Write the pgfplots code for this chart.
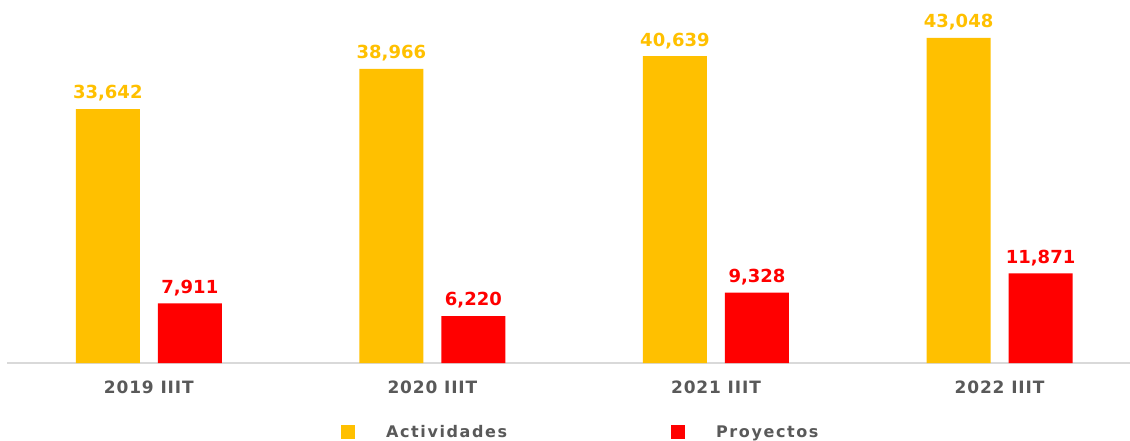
\documentclass[border=0pt]{standalone}
\usepackage{fontspec}
\setmainfont{DejaVu Sans}
\usepackage{pgfplots}
\pgfplotsset{compat=1.18}
\definecolor{amarillo}{HTML}{FFC000}
\definecolor{rojo}{HTML}{FF0000}
\definecolor{gristexto}{HTML}{595959}
\definecolor{gristlinea}{HTML}{D9D9D9}

\begin{document}
\begin{tikzpicture}
\useasboundingbox (0,0) rectangle (1130pt,440pt);
\begin{axis}[
    at={(7pt,77pt)}, anchor=south west,
    scale only axis,
    width=1123pt, height=363pt,
    ybar=18pt, bar width=64pt,
    xmin=-0.5, xmax=3.46,
    ymin=0, ymax=48080,
    xtick=data,
    xticklabels={2019 IIIT, 2020 IIIT, 2021 IIIT, 2022 IIIT},
    xticklabel style={font=\fontsize{17}{20}\selectfont\bfseries\addfontfeatures{LetterSpace=5},
        text=gristexto, yshift=-14pt},
    major tick length=0pt,
    axis x line*=bottom,
    axis y line=none,
    x axis line style={draw=gristlinea, line width=1.5pt, -},
    nodes near coords,
    nodes near coords style={font=\fontsize{18}{20}\selectfont\bfseries, yshift=4pt,
        /pgf/number format/assume math mode=true,
        /pgf/number format/fixed, /pgf/number format/precision=0,
        /pgf/number format/1000 sep={,}},
    legend columns=2,
    legend style={at={(0.2947,-0.190)}, anchor=west, draw=none, fill=none,
        font=\fontsize{16}{18}\selectfont\bfseries\addfontfeatures{LetterSpace=10},
        text=gristexto,
        /tikz/every even column/.append style={column sep=162pt}},
    legend image code/.code={\fill[#1] (0pt,-7pt) rectangle (14pt,7pt);},
]
\addplot+[fill=amarillo, draw=none, every node near coord/.append style={text=amarillo}]
    coordinates {(0,33642) (1,38966) (2,40639) (3,43048)};
\addplot+[fill=rojo, draw=none, every node near coord/.append style={text=rojo}]
    coordinates {(0,7911) (1,6220) (2,9328) (3,11871)};
\legend{\hspace{29pt}Actividades, \hspace{29pt}Proyectos}
\end{axis}
\end{tikzpicture}
\end{document}
